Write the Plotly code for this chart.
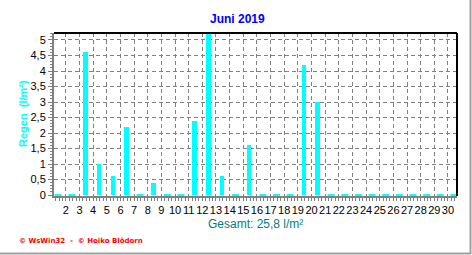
import plotly.graph_objects as go

# ---- data ----
days = list(range(1, 31))
rain = [0, 0, 4.6, 1.0, 0.6, 2.2, 0, 0.4, 0, 0,
        2.4, 5.2, 0.6, 0, 1.6, 0, 0, 0, 4.2, 3.0,
        0, 0, 0, 0, 0, 0, 0, 0, 0, 0]
day_labels = [str(d) for d in days]
title_text = "Juni 2019"
y_title = "Regen  (l/m²)"
total_text = "Gesamt: 25,8 l/m²"
footer_text = "© WsWin32  -  © Heiko Blödorn"
y_ticks = [0, 0.5, 1, 1.5, 2, 2.5, 3, 3.5, 4, 4.5, 5]

W, H = 472, 255
L, R, T, B = 54, 15, 33, 59
pw, ph = W - L - R, H - T - B

CYAN = "#00FFFF"
GRID = "#808080"

bar_x = [d - 0.565 for d in days]
zero_days = [d - 0.565 for d, r in zip(days, rain) if r == 0]

fig = go.Figure()
fig.add_trace(go.Bar(x=bar_x, y=rain, width=0.33, marker_color=CYAN,
                     marker_line_width=0, showlegend=False))
fig.add_trace(go.Scatter(x=zero_days, y=[0] * len(zero_days), mode="markers",
                         marker=dict(symbol="line-ew", size=5,
                                     line=dict(color=CYAN, width=2)),
                         cliponaxis=False, showlegend=False))

font = "Liberation Sans, Arial, sans-serif"

fig.update_layout(
    width=W, height=H,
    margin=dict(l=L, r=R, t=T, b=B, pad=0),
    paper_bgcolor="white", plot_bgcolor="white",
    separators=",.",
    bargap=0,
    font=dict(family=font, size=11, color="black"),
    xaxis=dict(
        range=[0.13, 29.66],
        tickmode="array", tickvals=[d - 1 for d in days], ticktext=day_labels,
        tickangle=0,
        showgrid=True, gridcolor=GRID, griddash="4px,3px", gridwidth=1,
        showline=True, linecolor=GRID, linewidth=2,
        ticks="outside", ticklen=3, tickcolor=GRID, tickwidth=1,
        minor=dict(dtick=0.25, tick0=0, ticks="outside", ticklen=3,
                   tickcolor=GRID, showgrid=False),
        tickfont=dict(size=11, color="black"),
        zeroline=False, fixedrange=True,
    ),
    yaxis=dict(
        range=[-0.03, 5.225],
        tickmode="array", tickvals=y_ticks,
        showgrid=True, gridcolor=GRID, griddash="4px,3px", gridwidth=1,
        showline=True, linecolor=GRID, linewidth=2,
        ticks="outside", ticklen=4, tickcolor=GRID, tickwidth=1,
        minor=dict(dtick=0.1, tick0=0, ticks="outside", ticklen=2,
                   tickcolor=GRID, showgrid=False),
        tickfont=dict(size=11, color="black"),
        zeroline=False, fixedrange=True,
    ),
)

def px_x(p):
    return (p - L) / pw

def px_y(p):
    return 1 - (p - T) / ph

# top and right black frame lines
fig.add_shape(type="line", xref="paper", yref="paper", x0=0, x1=1, y0=1, y1=1,
              line=dict(color="black", width=2))
fig.add_shape(type="line", xref="paper", yref="paper", x0=1, x1=1, y0=0, y1=1,
              line=dict(color="black", width=2))
# outer image border (bottom / right)
fig.add_shape(type="line", xref="paper", yref="paper",
              x0=px_x(0), x1=px_x(471), y0=px_y(253.5), y1=px_y(253.5),
              line=dict(color="#A0A0A0", width=2))
fig.add_shape(type="line", xref="paper", yref="paper",
              x0=px_x(470.5), x1=px_x(470.5), y0=px_y(0), y1=px_y(254),
              line=dict(color="#A0A0A0", width=2))

fig.add_annotation(text="<b>" + title_text + "</b>", xref="paper", yref="paper",
                   x=px_x(237), y=px_y(19), xanchor="center", yanchor="middle",
                   showarrow=False,
                   font=dict(size=12, color="#0000FF", family=font))
fig.add_annotation(text="<b>" + y_title + "</b>", xref="paper", yref="paper",
                   x=px_x(23), y=px_y(114), xanchor="center", yanchor="middle",
                   textangle=-90, showarrow=False,
                   font=dict(size=11, color=CYAN, family=font))
fig.add_annotation(text=total_text, xref="paper", yref="paper",
                   x=px_x(255), y=px_y(224), xanchor="center", yanchor="middle",
                   showarrow=False,
                   font=dict(size=12, color="#008080", family=font))
fig.add_annotation(text="<b>" + footer_text + "</b>", xref="paper", yref="paper",
                   x=px_x(17), y=px_y(241), xanchor="left", yanchor="middle",
                   showarrow=False,
                   font=dict(size=7, color="#FF0000", family="DejaVu Sans"))

fig.write_html("out.html")
